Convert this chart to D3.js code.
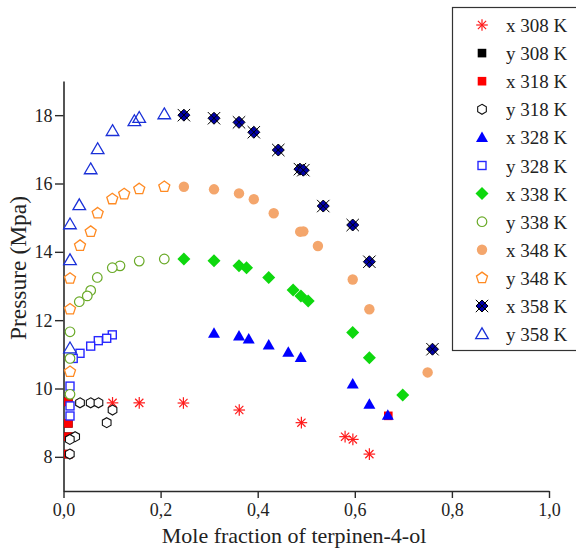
<!DOCTYPE html>
<html>
<head>
<meta charset="utf-8">
<script src="https://cdn.jsdelivr.net/npm/d3@7"></script>
<style>
html,body{margin:0;padding:0;background:#fff;}
svg{display:block;font-family:"Liberation Serif","DejaVu Serif",serif;}
</style>
</head>
<body>
<svg id="chart" width="576" height="556"></svg>
<script>
// ---- data (mole fraction, pressure MPa) ----
const seriesLabels = ["x 308 K","y 308 K","x 318 K","y 318 K","x 328 K","y 328 K","x 338 K","y 338 K","x 348 K","y 348 K","x 358 K","y 358 K"];
const x308 = [[0.101,9.58],[0.156,9.58],[0.247,9.575],[0.362,9.37],[0.490,9.0],[0.580,8.59],[0.596,8.51],[0.630,8.08]];
const y308 = [[0.010,9.61],[0.010,8.98],[0.010,8.59],[0.010,8.08]];
const x318 = [[0.010,9.61],[0.010,8.98],[0.010,8.59],[0.010,8.08],[0.669,9.2]];
const y318 = [[0.034,9.58],[0.056,9.58],[0.072,9.58],[0.101,9.37],[0.089,9.0],[0.024,8.59],[0.013,8.51],[0.013,8.08]];
const x328 = [[0.310,11.62],[0.3615,11.54],[0.3815,11.45],[0.4227,11.27],[0.463,11.06],[0.4886,10.91],[0.5957,10.13],[0.630,9.54],[0.668,9.22]];
const y328 = [[0.1005,11.57],[0.089,11.47],[0.0717,11.40],[0.056,11.24],[0.034,11.03],[0.020,10.88],[0.0134,10.07],[0.0134,9.49],[0.0134,9.195]];
const x338 = [[0.248,13.79],[0.310,13.74],[0.3615,13.59],[0.377,13.535],[0.4227,13.25],[0.473,12.88],[0.489,12.71],[0.504,12.56],[0.5957,11.64],[0.630,10.90],[0.6987,9.81]];
const y338 = [[0.2076,13.79],[0.156,13.73],[0.1164,13.59],[0.1005,13.535],[0.0696,13.25],[0.056,12.87],[0.049,12.71],[0.0325,12.54],[0.0134,11.66],[0.0134,10.88],[0.0134,9.83]];
const x348 = [[0.248,15.905],[0.310,15.83],[0.3615,15.71],[0.392,15.54],[0.433,15.13],[0.4875,14.59],[0.494,14.60],[0.524,14.17],[0.5957,13.19],[0.630,12.32],[0.750,10.47]];
const y348 = [[0.2076,15.905],[0.156,15.84],[0.125,15.69],[0.1005,15.545],[0.0704,15.13],[0.056,14.59],[0.034,14.18],[0.0134,13.22],[0.0134,12.32],[0.0134,10.49]];
const x358 = [[0.248,18.0],[0.310,17.91],[0.3615,17.79],[0.392,17.50],[0.4424,16.98],[0.487,16.42],[0.494,16.39],[0.535,15.34],[0.5957,14.785],[0.630,13.71],[0.760,11.15]];
const y358 = [[0.2076,18.03],[0.156,17.925],[0.146,17.83],[0.101,17.54],[0.0704,17.01],[0.056,16.42],[0.0325,15.37],[0.0134,14.81],[0.0134,13.76],[0.0134,11.18]];
const xMajorTicks = [0,0.2,0.4,0.6,0.8,1.0];
const xMinorTicks = [0.1,0.3,0.5,0.7,0.9];
const yMajorTicks = [8,10,12,14,16,18];
const yMinorTicks = [7,9,11,13,15,17,19];
const xTitle = "Mole fraction of terpinen-4-ol";
const yTitle = "Pressure (Mpa)";

// ---- layout ----
const svg = d3.select("#chart");
const x = d3.scaleLinear().domain([0,1]).range([63.5,549]);
const y = d3.scaleLinear().domain([7,19]).range([491,81]);
const axisColor = "#2a2a2a";

// ---- marker shapes ----
function poly(n, r, rot){
  const pts=[];
  for(let i=0;i<n;i++){const a=rot+i*2*Math.PI/n;pts.push([r*Math.cos(a),r*Math.sin(a)]);}
  return "M"+pts.map(p=>p[0].toFixed(2)+","+p[1].toFixed(2)).join("L")+"Z";
}
const shapes = {
  asterisk: g=>{const r=5.8;[0,45,90,135].forEach(a=>{const t=a*Math.PI/180;g.append("line").attr("x1",-r*Math.cos(t)).attr("y1",-r*Math.sin(t)).attr("x2",r*Math.cos(t)).attr("y2",r*Math.sin(t)).attr("stroke","#ff1a1a").attr("stroke-width",1.2);});},
  squareBlack: g=>g.append("rect").attr("x",-4.3).attr("y",-4.3).attr("width",8.6).attr("height",8.6).attr("fill","#000"),
  squareRed: g=>g.append("rect").attr("x",-4.3).attr("y",-4.3).attr("width",8.6).attr("height",8.6).attr("fill","#ff0000"),
  hexagon: g=>g.append("path").attr("d",poly(6,5,-Math.PI/2)).attr("fill","#fff").attr("stroke","#111").attr("stroke-width",1.1),
  triFilled: g=>g.append("path").attr("d","M0,-6L6,4.5L-6,4.5Z").attr("fill","#0000ff"),
  squareOpen: g=>g.append("rect").attr("x",-4).attr("y",-4).attr("width",8).attr("height",8).attr("fill","#fff").attr("stroke","#2828ff").attr("stroke-width",1.4),
  diamond: g=>g.append("path").attr("d","M0,-6.5L6.5,0L0,6.5L-6.5,0Z").attr("fill","#0ed80e"),
  circleOpen: g=>g.append("circle").attr("r",4.8).attr("fill","#fff").attr("stroke","#6aaa28").attr("stroke-width",1.2),
  circleFilled: g=>g.append("circle").attr("r",5.2).attr("fill","#f4a66c"),
  pentagon: g=>g.append("path").attr("d",poly(5,5.8,-Math.PI/2)).attr("fill","#fff").attr("stroke","#ff8a22").attr("stroke-width",1.3),
  xDiamond: g=>{g.append("path").attr("d","M0,-6L6,0L0,6L-6,0Z").attr("fill","#0000a8").attr("stroke","#000").attr("stroke-width",1);
    const r=6.2;g.append("path").attr("d",`M${-r},${-r}L${r},${r}M${-r},${r}L${r},${-r}`).attr("stroke","#000").attr("stroke-width",1);},
  triOpen: g=>g.append("path").attr("d","M0,-6.2L6.3,4.6L-6.3,4.6Z").attr("fill","none").attr("stroke","#1a30d8").attr("stroke-width",1.3)
};
const series = [
  {label:seriesLabels[0], data:x308, shape:"asterisk"},
  {label:seriesLabels[1], data:y308, shape:"squareBlack"},
  {label:seriesLabels[2], data:x318, shape:"squareRed"},
  {label:seriesLabels[3], data:y318, shape:"hexagon"},
  {label:seriesLabels[4], data:x328, shape:"triFilled"},
  {label:seriesLabels[5], data:y328, shape:"squareOpen"},
  {label:seriesLabels[6], data:x338, shape:"diamond"},
  {label:seriesLabels[7], data:y338, shape:"circleOpen"},
  {label:seriesLabels[8], data:x348, shape:"circleFilled"},
  {label:seriesLabels[9], data:y348, shape:"pentagon"},
  {label:seriesLabels[10], data:x358, shape:"xDiamond"},
  {label:seriesLabels[11], data:y358, shape:"triOpen"}
];

// ---- axes ----
const fmt = d=>d3.format(".1f")(d).replace(".",",");
const gx = svg.append("g").attr("transform",`translate(0,${y(7)})`);
gx.call(d3.axisBottom(x).tickValues(xMinorTicks).tickSize(4).tickSizeOuter(0).tickFormat(""));
gx.call(d3.axisBottom(x).tickValues(xMajorTicks).tickSize(7).tickSizeOuter(0).tickFormat(fmt));
const gy = svg.append("g").attr("transform",`translate(${x(0)},0)`);
gy.call(d3.axisLeft(y).tickValues(yMinorTicks).tickSize(5).tickSizeOuter(0).tickFormat(""));
gy.call(d3.axisLeft(y).tickValues(yMajorTicks).tickSize(8.5).tickSizeOuter(0).tickFormat(d3.format("d")));
[gx,gy].forEach(g=>{
  g.selectAll(".domain").attr("stroke",axisColor).attr("stroke-width",1.6);
  g.selectAll(".tick line").attr("stroke",axisColor).attr("stroke-width",1.4);
  g.selectAll(".tick text").attr("fill","#222").style("font-family",'"Liberation Serif",serif').style("font-size","18px");
});
gx.selectAll(".tick text").attr("dy",null).attr("y",25);
gy.selectAll(".tick text").attr("x",-11).attr("dy","0.34em");

svg.append("text").attr("x",294).attr("y",543).attr("text-anchor","middle")
  .style("font-size","22px").attr("fill","#222").text(xTitle);
svg.append("text").attr("transform",`translate(26,268) rotate(-90)`).attr("text-anchor","middle")
  .style("font-size","23.5px").attr("fill","#222").text(yTitle);

// ---- points ----
const plot = svg.append("g");
series.forEach(s=>{
  plot.append("g").selectAll("g").data(s.data).join("g")
    .attr("transform",d=>`translate(${x(d[0])},${y(d[1])})`)
    .each(function(){shapes[s.shape](d3.select(this));});
});

// ---- legend ----
const leg = svg.append("g");
leg.append("rect").attr("x",452.5).attr("y",7.5).attr("width",140).attr("height",343)
  .attr("fill","#fff").attr("stroke","#333").attr("stroke-width",1.2);
series.forEach((s,i)=>{
  const cy = 25 + i*28.1;
  const g = leg.append("g").attr("transform",`translate(482,${cy})`);
  shapes[s.shape](g);
  leg.append("text").attr("x",506).attr("y",cy+7).style("font-size","19px").attr("fill","#222").text(s.label);
});
</script>
</body>
</html>
